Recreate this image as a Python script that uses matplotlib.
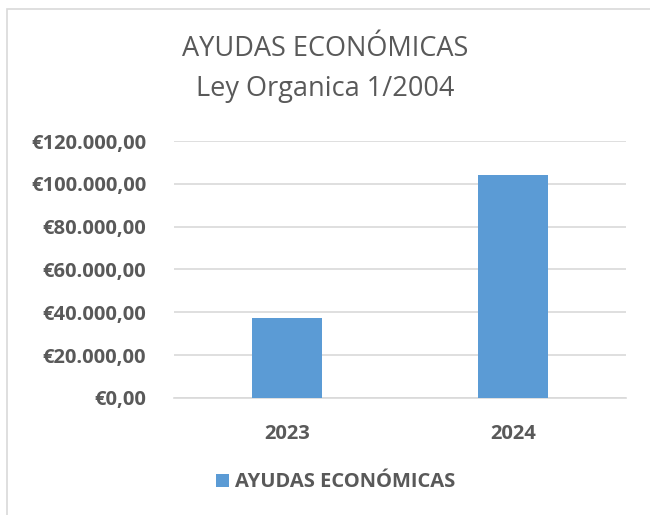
import matplotlib.pyplot as plt
from matplotlib.ticker import FuncFormatter
from matplotlib.patches import Rectangle

years = ['2023', '2024']
ayudas = [37400, 103900]
series_name = 'AYUDAS ECONÓMICAS'
title = 'AYUDAS ECONÓMICAS\nLey Organica 1/2004'

plt.rcParams['font.family'] = ['Open Sans', 'DejaVu Sans']
gray = '#595959'

fig = plt.figure(figsize=(6.5, 5.15), dpi=100)
ax = fig.add_axes([0.2677, 0.2272, 0.6954, 0.499])

# chart border like the office chart frame
fig.patches.append(Rectangle((7 / 650, -0.01), 1.0, 1 - 9 / 515 + 0.01,
                             transform=fig.transFigure, fill=False,
                             edgecolor='#D9D9D9', linewidth=1.2))

x = range(len(years))
ax.bar(x, ayudas, width=0.31, color='#5B9BD5', label=series_name, zorder=3)
ax.set_xlim(-0.5, 1.5)
ax.set_ylim(0, 120000)
ax.set_yticks(range(0, 120001, 20000))


def euro(v, pos):
    s = f'{v:,.2f}'.replace(',', 'X').replace('.', ',').replace('X', '.')
    return '€' + s


ax.yaxis.set_major_formatter(FuncFormatter(euro))
ax.set_xticks(list(x))
ax.set_xticklabels(years)
ax.grid(axis='y', color='#D9D9D9', linewidth=1.2, zorder=0)
for s in ['top', 'right', 'left']:
    ax.spines[s].set_visible(False)
ax.spines['bottom'].set_color('#D9D9D9')
ax.spines['bottom'].set_linewidth(1.2)
ax.tick_params(length=0, colors=gray, labelsize=14.5)
ax.tick_params(axis='y', pad=20)
ax.tick_params(axis='x', pad=19)
for lab in ax.get_xticklabels() + ax.get_yticklabels():
    lab.set_fontweight('bold')

fig.text(0.5, 0.866, title, ha='center', va='center', fontsize=19.5,
         color=gray, linespacing=1.55)

leg = fig.legend(loc='center', bbox_to_anchor=(0.516, 0.0635), frameon=False,
                 fontsize=14.5, handlelength=0.65, handleheight=0.65,
                 handletextpad=0.3)
for t in leg.get_texts():
    t.set_color(gray)
    t.set_fontweight('bold')

fig.savefig('out.png', dpi=100)
